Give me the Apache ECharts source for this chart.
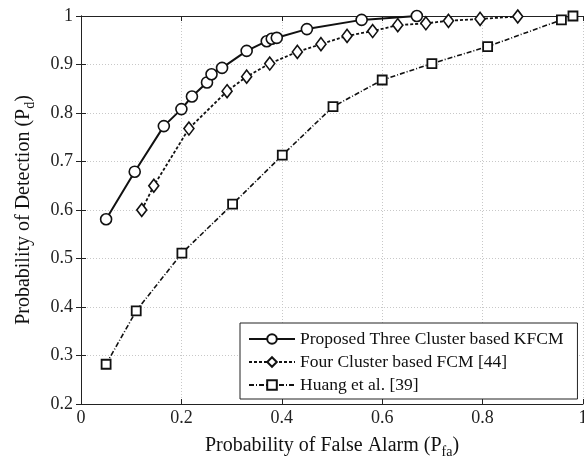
<!DOCTYPE html>
<html><head><meta charset="utf-8">
<script src="https://cdn.jsdelivr.net/npm/echarts@6/dist/echarts.min.js"></script>
<style>html,body{margin:0;padding:0;background:#fff}#c{width:584px;height:458px}</style>
</head><body><div id="c"></div>
<script>
const seriesNames = ['Proposed Three Cluster based KFCM','Four Cluster based FCM [44]','Huang et al. [39]'];
const kfcmX = [0.05,0.107,0.165,0.2,0.221,0.251,0.26,0.281,0.33,0.37,0.38,0.39,0.45,0.559,0.669];
const kfcmY = [0.581,0.679,0.773,0.808,0.834,0.863,0.88,0.893,0.928,0.948,0.953,0.955,0.973,0.992,1.0];
const fcmX = [0.121,0.145,0.215,0.291,0.33,0.376,0.431,0.478,0.53,0.581,0.631,0.687,0.732,0.795,0.87];
const fcmY = [0.6,0.65,0.768,0.845,0.875,0.902,0.926,0.942,0.959,0.969,0.981,0.985,0.99,0.994,0.999];
const huangX = [0.05,0.11,0.201,0.302,0.401,0.502,0.6,0.699,0.81,0.957,0.98];
const huangY = [0.282,0.392,0.511,0.612,0.713,0.813,0.868,0.902,0.937,0.992,1.0];
const xTicks = [0,0.2,0.4,0.6,0.8,1];
const yTicks = [0.2,0.3,0.4,0.5,0.6,0.7,0.8,0.9,1];

const zip = (a,b)=>a.map((v,i)=>[v,b[i]]);
const font = '"Liberation Serif", "Times New Roman", serif';
const nameRich = {
  a:{fontFamily:font,fontSize:20,color:'#111',verticalAlign:'top',lineHeight:23},
  s:{fontFamily:font,fontSize:14,color:'#111',verticalAlign:'bottom',lineHeight:16,padding:[13,0,0,0]}
};
const split = {show:true,lineStyle:{color:'#c8c8c8',type:[1,2],width:1}};
const chart = echarts.init(document.getElementById('c'));
chart.setOption({
  animation:false,
  backgroundColor:'#fff',
  grid:{left:81,right:1,top:16,bottom:54,show:false,containLabel:false,outerBoundsMode:'none'},
  legend:{
    left:240, top:323, orient:'vertical', itemWidth:46, itemHeight:12, itemGap:3,
    backgroundColor:'#fff', borderColor:'#222', borderWidth:1, borderRadius:0,
    padding:[6,14,4,8],
    textStyle:{fontFamily:font,fontSize:17.5,color:'#111',lineHeight:20},
    data:seriesNames
  },
  xAxis:[{
    type:'value', min:0, max:1, interval:0.2,
    name:'{a|Probability of False Alarm (P}{s|fa}{a|)}',
    nameLocation:'middle', nameGap:29, nameTextStyle:{rich:nameRich},
    axisLine:{lineStyle:{color:'#222',width:1}},
    axisTick:{inside:true,length:5,lineStyle:{color:'#222'}},
    axisLabel:{fontFamily:font,fontSize:18,color:'#222',margin:5},
    splitLine:split
  },{
    type:'value', min:0, max:1, interval:0.2, position:'top',
    axisLine:{show:true,lineStyle:{color:'#222',width:1}},
    axisTick:{inside:true,length:5,lineStyle:{color:'#222'}},
    axisLabel:{show:false}, splitLine:{show:false}
  }],
  yAxis:[{
    type:'value', min:0.2, max:1, interval:0.1,
    name:'{a|Probability of Detection (P}{s|d}{a|)}',
    nameLocation:'middle', nameGap:44, nameTextStyle:{rich:nameRich},
    axisLine:{show:true,lineStyle:{color:'#222',width:1}},
    axisTick:{show:true,inside:true,length:5,lineStyle:{color:'#222'}},
    axisLabel:{fontFamily:font,fontSize:18,color:'#222',margin:8},
    splitLine:split
  },{
    type:'value', min:0.2, max:1, interval:0.1, position:'right',
    axisLine:{show:true,lineStyle:{color:'#222',width:1}},
    axisTick:{show:true,inside:true,length:5,lineStyle:{color:'#222'}},
    axisLabel:{show:false}, splitLine:{show:false}
  }],
  series:[
    {name:seriesNames[0],type:'line',data:zip(kfcmX,kfcmY),symbol:'circle',symbolSize:11,
     lineStyle:{color:'#111',width:2,type:'solid'},
     itemStyle:{color:'#fff',borderColor:'#111',borderWidth:1.6},z:4},
    {name:seriesNames[1],type:'line',data:zip(fcmX,fcmY),symbol:'diamond',symbolSize:[10,13],
     lineStyle:{color:'#111',width:1.8,type:[3,2]},
     itemStyle:{color:'#fff',borderColor:'#111',borderWidth:1.6},z:3},
    {name:seriesNames[2],type:'line',data:zip(huangX,huangY),symbol:'rect',symbolSize:9,
     lineStyle:{color:'#111',width:1.6,type:[5,2,1,2]},
     itemStyle:{color:'#fff',borderColor:'#111',borderWidth:1.8},z:2}
  ]
});
</script></body></html>
